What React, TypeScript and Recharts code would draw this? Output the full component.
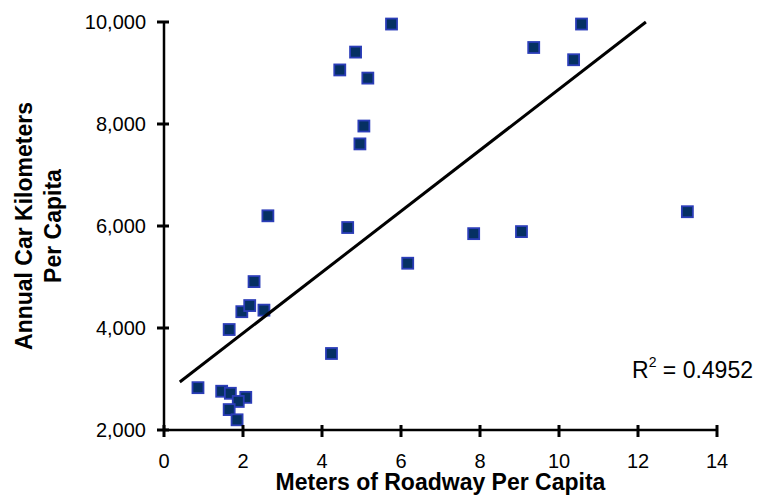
import { ScatterChart, Scatter, XAxis, YAxis } from "recharts"

// meters of roadway per capita vs annual car km per capita
const roadway = [
  5.76, 4.85, 4.45, 5.16, 5.06, 4.96, 2.63, 4.65, 6.17, 2.28, 1.97, 2.17, 2.53, 1.65,
  4.24, 0.86, 1.46, 1.68, 2.07, 1.88, 1.65, 1.85, 10.57, 9.36, 10.37, 13.25, 7.84, 9.05,
]
const carKm = [
  9960, 9410, 9060, 8900, 7960, 7610, 6200, 5970, 5270, 4910, 4320, 4440, 4350, 3970,
  3500, 2830, 2760, 2720, 2640, 2560, 2400, 2200, 9960, 9500, 9260, 6280, 5850, 5890,
]

// linear trendline end points, as drawn
const trendX = [0.4, 12.2]
const trendY = [2940, 10000]

const xTicks = [0, 2, 4, 6, 8, 10, 12, 14]
const yTicks = [2000, 4000, 6000, 8000, 10000]
const rSquared = "0.4952"

const points = roadway.map((x, i) => ({ x, y: carKm[i] }))
const trend = trendX.map((x, i) => ({ x, y: trendY[i] }))

const FONT = "'Liberation Sans', Arial, sans-serif"
const nf = new Intl.NumberFormat("en-US")

// tick label and a tick mark crossing the axis (x, y = point on the axis line)
function YTick(props: any) {
  const { x, y, payload } = props
  return (
    <g>
      <line x1={x - 7} y1={y} x2={x + 5} y2={y} stroke="#000" strokeWidth={3} />
      <text x={x - 18} y={y + 7} textAnchor="end" fontSize={20} fontFamily={FONT} fill="#000">
        {nf.format(payload.value)}
      </text>
    </g>
  )
}

function XTick(props: any) {
  const { x, y, payload } = props
  return (
    <g>
      <line x1={x} y1={y - 5} x2={x} y2={y + 7} stroke="#000" strokeWidth={3} />
      <text x={x} y={y + 38} textAnchor="middle" fontSize={20} fontFamily={FONT} fill="#000">
        {payload.value}
      </text>
    </g>
  )
}

const Marker = ({ cx, cy }: any) => (
  <rect x={cx - 5.5} y={cy - 5.5} width={11} height={11} fill="#053063" stroke="#2b3db8" strokeWidth={1.8} />
)

const NoDot = () => null

const YTitle = ({ viewBox }: any) => {
  const cy = viewBox.y + viewBox.height / 2
  return (
    <g fontFamily={FONT} fontSize={23} fontWeight="bold" fill="#000" textAnchor="middle">
      <text x={32} y={cy} transform={`rotate(-90 32 ${cy})`}>Annual Car Kilometers</text>
      <text x={61} y={cy} transform={`rotate(-90 61 ${cy})`}>Per Capita</text>
    </g>
  )
}

const XTitle = ({ viewBox }: any) => (
  <text
    x={viewBox.x + viewBox.width / 2}
    y={490}
    textAnchor="middle"
    fontFamily={FONT}
    fontSize={23}
    fontWeight="bold"
    fill="#000"
  >
    Meters of Roadway Per Capita
  </text>
)

export default function App() {
  return (
    <div style={{ position: "absolute", left: 0, top: 0, width: 758, height: 497, background: "#fff" }}>
      <ScatterChart width={758} height={497} margin={{ top: 22, right: 41, bottom: 0, left: 0 }}>
        <XAxis
          type="number"
          dataKey="x"
          domain={[0, 14]}
          ticks={xTicks}
          interval={0}
          height={67}
          tickSize={0}
          tickMargin={0}
          tickLine={false}
          axisLine={{ stroke: "#000", strokeWidth: 2.5 }}
          tick={(p: any) => <XTick {...p} />}
          label={<XTitle />}
        />
        <YAxis
          type="number"
          dataKey="y"
          domain={[2000, 10000]}
          ticks={yTicks}
          interval={0}
          width={164}
          tickSize={0}
          tickMargin={0}
          tickLine={false}
          axisLine={{ stroke: "#000", strokeWidth: 2.5 }}
          tick={(p: any) => <YTick {...p} />}
          label={<YTitle />}
        />
        <Scatter data={points} shape={<Marker />} isAnimationActive={false} />
        <Scatter
          data={trend}
          line={{ stroke: "#000", strokeWidth: 3 }}
          shape={<NoDot />}
          isAnimationActive={false}
        />
      </ScatterChart>
      <svg width={758} height={497} style={{ position: "absolute", left: 0, top: 0, pointerEvents: "none" }}>
        <text x={632} y={378} fontFamily={FONT} fontSize={23} fill="#000">
          R<tspan fontSize={14} dy={-11}>2</tspan>
          <tspan dy={11}> = {rSquared}</tspan>
        </text>
      </svg>
    </div>
  )
}
